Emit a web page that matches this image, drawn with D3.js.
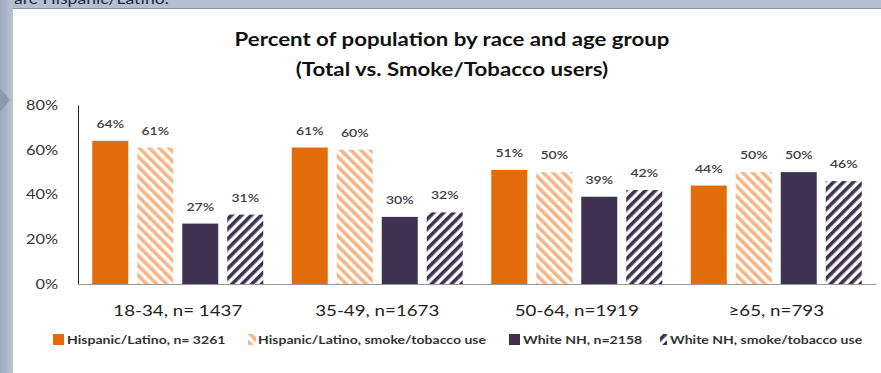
<!DOCTYPE html>
<html>
<head>
<meta charset="utf-8">
<script src="https://cdn.jsdelivr.net/npm/d3@7"></script>
<style>
  html, body { margin: 0; padding: 0; background: #ffffff; }
  svg { display: block; font-family: Lato, "Open Sans", sans-serif; }
</style>
</head>
<body>
<svg id="chart" width="881" height="373"></svg>
<script>
// Age groups along the x axis
const ageGroups = ["18-34, n= 1437", "35-49, n=1673", "50-64, n=1919", "\u226565, n=793"];
// Series shown side by side in each age group
const seriesNames = [
  "Hispanic/Latino, n= 3261",
  "Hispanic/Latino, smoke/tobacco use",
  "White NH, n=2158",
  "White NH, smoke/tobacco use"
];
// Percent of population per series, one value per age group
const hispanicTotal   = [64, 61, 51, 44];
const hispanicSmoke   = [61, 60, 50, 50];
const whiteTotal      = [27, 30, 39, 50];
const whiteSmoke      = [31, 32, 42, 46];
const yTicks = [0, 20, 40, 60, 80];

const seriesValues = [hispanicTotal, hispanicSmoke, whiteTotal, whiteSmoke];
const seriesFill = ["#e36c0a", "url(#hatchOrange)", "#3f3151", "url(#hatchNavy)"];

// horizontal widening applied to all text (wide Calibri-like look)
const TEXT_WIDEN = 1.17;

const svg = d3.select("#chart");
const W = 881, H = 373;

const defs = svg.append("defs");
const lg = defs.append("linearGradient").attr("id", "frameGrad").attr("x1", 0).attr("x2", 1);
lg.append("stop").attr("offset", 0).attr("stop-color", "#9eabbd");
lg.append("stop").attr("offset", 1).attr("stop-color", "#b9c4d3");

function hatch(id, color, bg, angle) {
  const p = defs.append("pattern")
    .attr("id", id).attr("patternUnits", "userSpaceOnUse")
    .attr("width", 7).attr("height", 7)
    .attr("patternTransform", `rotate(${angle})`);
  p.append("rect").attr("width", 7).attr("height", 7).attr("fill", bg);
  p.append("rect").attr("width", 3.6).attr("height", 7).attr("fill", color);
}
hatch("hatchOrange", "#f8b583", "#ffffff", -45);
hatch("hatchNavy", "#3f3151", "#ffffff", 45);

// slide frame around the chart panel
svg.append("rect").attr("width", W).attr("height", H).attr("fill", "#b4c0cf");
svg.append("rect").attr("x", 0).attr("y", 0).attr("width", 13).attr("height", H).attr("fill", "url(#frameGrad)");
svg.append("path").attr("d", "M0,88 L10,100 L0,112 Z").attr("fill", "#8d99aa");
svg.append("text").attr("class", "wide").attr("x", 14).attr("y", 4)
  .attr("font-size", 15).attr("fill", "#1f2a3a").text("are Hispanic/Latino.");
svg.append("rect").attr("x", 13).attr("y", 8).attr("width", W - 13).attr("height", H - 8)
  .attr("fill", "#ffffff");
svg.append("line").attr("x1", 13).attr("x2", W).attr("y1", 8.5).attr("y2", 8.5)
  .attr("stroke", "#8a94a0").attr("stroke-width", 1);

// title
const title = svg.append("text").attr("text-anchor", "middle")
  .attr("font-weight", "bold").attr("font-size", 19).attr("fill", "#111");
title.append("tspan").attr("class", "wide").attr("x", 452).attr("y", 46).text("Percent of population by race and age group");
title.append("tspan").attr("class", "wide").attr("x", 452).attr("y", 76).text("(Total vs. Smoke/Tobacco users)");

// scales
const x0 = d3.scaleBand().domain(ageGroups).range([78, 876]).padding(0);
const x1 = d3.scaleBand().domain(d3.range(seriesNames.length))
  .range([0, x0.bandwidth()]).paddingInner(0.2).paddingOuter(0.317);
const y = d3.scaleLinear().domain([0, 80]).range([284, 105]);

// y axis
const yAxis = svg.append("g").attr("transform", "translate(78,0)")
  .call(d3.axisLeft(y).tickValues(yTicks).tickFormat(d => d + "%").tickSize(0).tickPadding(20));
yAxis.select(".domain").attr("stroke", "#222").attr("stroke-width", 1);
yAxis.selectAll("text").attr("class", "wide").attr("font-family", "Lato, sans-serif")
  .attr("font-size", 14).attr("fill", "#333");

// bars and value labels
const groups = svg.append("g").selectAll("g").data(ageGroups).join("g")
  .attr("transform", d => `translate(${x0(d)},0)`);

groups.each(function(g, gi) {
  const sel = d3.select(this);
  const data = seriesValues.map((vals, si) => ({ si, v: vals[gi] }));
  sel.selectAll("rect").data(data).join("rect")
    .attr("x", d => x1(d.si))
    .attr("width", x1.bandwidth())
    .attr("y", d => y(d.v))
    .attr("height", d => y(0) - y(d.v))
    .attr("fill", d => seriesFill[d.si]);
  sel.selectAll("text").data(data).join("text")
    .attr("class", "wide")
    .attr("x", d => x1(d.si) + x1.bandwidth() / 2)
    .attr("y", d => y(d.v) - 13)
    .attr("text-anchor", "middle")
    .attr("font-size", 12).attr("font-weight", 600).attr("fill", "#404040")
    .text(d => d.v + "%");
});

// x axis baseline and category labels
const xAxis = svg.append("g").attr("transform", `translate(0,${y(0)})`)
  .call(d3.axisBottom(x0).tickSize(0).tickPadding(21));
xAxis.select(".domain").attr("stroke", "#999").attr("stroke-width", 1.2);
xAxis.selectAll("text").attr("class", "wide").attr("font-family", "Lato, sans-serif")
  .attr("font-size", 16).attr("fill", "#222");

// legend: solid swatches are squares, hatched swatches are narrow chips
const legendIcon = [53, 248, 509, 660];
const legendIconW = [11, 8, 11, 7];
const legendText = [67, 258, 523, 670];
const legend = svg.append("g").selectAll("g").data(seriesNames).join("g")
  .attr("transform", "translate(0,334)");
legend.append("rect").attr("x", (d, i) => legendIcon[i]).attr("width", (d, i) => legendIconW[i])
  .attr("height", 11).attr("fill", (d, i) => seriesFill[i]);
legend.append("text").attr("class", "wide").attr("x", (d, i) => legendText[i]).attr("y", 10)
  .attr("font-size", 12).attr("font-weight", "bold").attr("fill", "#333")
  .text(d => d);

// widen glyphs horizontally
svg.selectAll(".wide").each(function() {
  const w = this.getComputedTextLength();
  d3.select(this).attr("textLength", w * TEXT_WIDEN).attr("lengthAdjust", "spacingAndGlyphs");
});
</script>
</body>
</html>
